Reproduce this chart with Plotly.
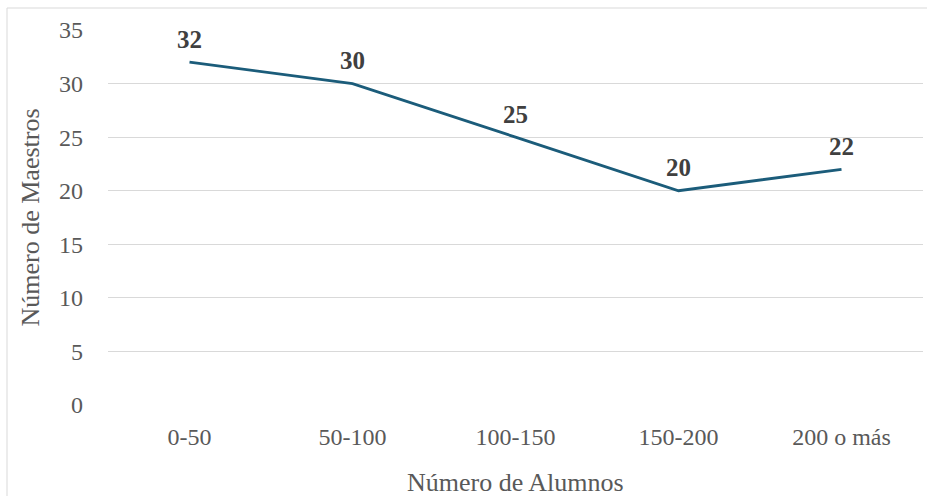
import plotly.graph_objects as go

# Teachers per school-size group
categorias = ["0-50", "50-100", "100-150", "150-200", "200 o más"]
maestros = [32, 30, 25, 20, 22]
y_ticks = [0, 5, 10, 15, 20, 25, 30, 35]

W, H = 927, 496
ML, MR, MT, MB = 108, 4, 30, 91
PW, PH = W - ML - MR, H - MT - MB

SERIF = "Liberation Serif"
LINE_COLOR = "#1B5C7A"
TEXT_GREY = "#595959"

fig = go.Figure()
fig.add_trace(go.Scatter(
    x=categorias, y=maestros, mode="lines",
    line=dict(color=LINE_COLOR, width=2.8),
    hoverinfo="x+y", showlegend=False,
))

# value labels above each point
for c, v in zip(categorias, maestros):
    fig.add_annotation(
        x=c, y=v, text=f"<b>{v}</b>", showarrow=False, yshift=23,
        font=dict(family=SERIF, size=25, color="#404040"),
    )

# axis titles
fig.add_annotation(
    x=0.5, y=(0 - (482 - (H - MB))) / PH, xref="paper", yref="paper",
    xanchor="center", yanchor="middle",
    text="Número de Alumnos", showarrow=False,
    font=dict(family=SERIF, size=26, color=TEXT_GREY),
)
fig.add_annotation(
    x=(30 - ML) / PW, y=0.5, xref="paper", yref="paper",
    xanchor="center", yanchor="middle",
    text="Número de Maestros", showarrow=False, textangle=-90,
    font=dict(family=SERIF, size=26, color=TEXT_GREY),
)

# chart-area frame
fig.add_shape(
    type="rect", xref="paper", yref="paper",
    x0=(7 - ML) / PW, x1=(930 - ML) / PW,
    y0=((H - MB) - 500) / PH, y1=((H - MB) - 8) / PH,
    line=dict(color="#D9D9D9", width=1), fillcolor="rgba(0,0,0,0)",
    layer="below",
)

fig.update_layout(
    width=W, height=H,
    margin=dict(l=ML, r=MR, t=MT, b=MB, pad=0),
    paper_bgcolor="white", plot_bgcolor="white",
    font=dict(family=SERIF, color=TEXT_GREY),
    xaxis=dict(
        type="category", range=[-0.5, 4.5],
        showgrid=False, zeroline=False, showline=False,
        ticks="", ticklabelstandoff=15,
        tickfont=dict(family=SERIF, size=24, color=TEXT_GREY),
    ),
    yaxis=dict(
        range=[0, 35], tickvals=y_ticks,
        showgrid=True, gridcolor="#D9D9D9", gridwidth=1,
        zeroline=False, showline=False, ticks="",
        ticklabelstandoff=24,
        tickfont=dict(family=SERIF, size=24, color=TEXT_GREY),
    ),
)

fig.write_html("out.html")
